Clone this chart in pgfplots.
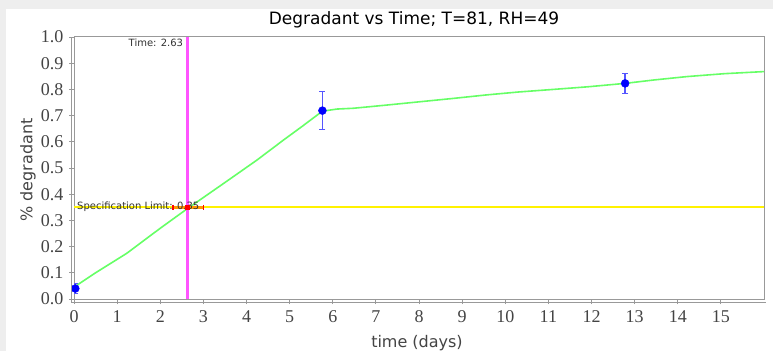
\documentclass[border=0pt]{standalone}
\usepackage{pgfplots}
\pgfplotsset{compat=1.18}
\usepackage{fontspec}
\setmainfont{DejaVu Sans}
\newfontfamily\tickfont{Liberation Serif}
\definecolor{bggray}{HTML}{EEEEEE}
\definecolor{curvegreen}{HTML}{66FF66}
\definecolor{magline}{HTML}{FF55FF}
\definecolor{framegray}{HTML}{999999}
\definecolor{ticktext}{HTML}{444444}
\definecolor{errblue}{HTML}{5555FF}
\definecolor{barorange}{HTML}{FF9900}
\begin{document}
\begin{tikzpicture}[x=1pt,y=1pt]
\useasboundingbox (0,0) rectangle (773,351);
\fill[bggray] (0,0) rectangle (773,351);
\fill[white] (6,0) rectangle (773,342);
\node[anchor=base, font=\fontsize{17}{17}\selectfont] at (414,326) {Degradant vs Time; T=81, RH=49};
\begin{axis}[
  at={(74pt,52pt)}, anchor=south west,
  scale only axis, width=690pt, height=262pt,
  xmin=0, xmax=16, ymin=0, ymax=1.0,
  xtick={0,1,...,15},
  ytick={0,0.1,...,1.0},
  yticklabel style={/pgf/number format/fixed, /pgf/number format/fixed zerofill, /pgf/number format/precision=1, xshift=-2pt},
  /pgf/number format/assume math mode=true,
  ticklabel style={font=\tickfont\fontsize{18}{18}\selectfont, text=ticktext},
  axis line style={framegray, line width=1pt},
  tick style={framegray, line width=0.8pt},
  tick align=outside,
  major tick length=5pt,
  xtick pos=bottom, ytick pos=left,
  xticklabel style={yshift=-3pt},
  clip=true,
]
\addplot[curvegreen, line width=1.6pt] coordinates {
(0,0.045)(0.5,0.10)(1.22,0.174)(2.0,0.27)(2.63,0.345)(3.46,0.44)(4.24,0.53)(4.86,0.607)(5.3,0.66)(5.76,0.717)(6.1,0.725)(6.48,0.728)(7.24,0.74)(8.03,0.753)(8.76,0.765)(9.57,0.779)(10.3,0.79)(11.12,0.80)(11.92,0.81)(12.78,0.823)(13.45,0.836)(14.22,0.849)(15.08,0.86)(16,0.868)
};
\addplot[yellow, line width=1.8pt] coordinates {(0,0.35)(16,0.35)};
\addplot[magline, line width=2.2pt] coordinates {(2.63,0)(2.63,1.0)};
\addplot[only marks, mark=*, mark size=4pt, blue,
  error bars/.cd, y dir=both, y explicit,
  error bar style={errblue, line width=1.3pt},
  error mark options={errblue, line width=1.3pt, mark size=3pt, rotate=90}]
  coordinates {
  (0.03,0.04) +- (0,0.02)
  (5.76,0.719) +- (0,0.072)
  (12.78,0.823) +- (0,0.038)
};
\addplot[barorange, line width=2.5pt, mark=|, mark size=2.5pt, mark options={red, line width=1.5pt}] coordinates {(2.29,0.35)(3.0,0.35)};
\addplot[only marks, mark=square*, mark size=1.8pt, red] coordinates {(2.63,0.35)};
\node[anchor=south east, font=\fontsize{10}{10}\selectfont, text=black!80, inner sep=2pt] at (axis cs:2.58,0.955) {Time: 2.63};
\node[anchor=base west, font=\fontsize{10}{10}\selectfont, text=black!80, inner sep=0pt] at (axis cs:0.07,0.342) {Specification Limit: 0.35};
\end{axis}
\draw[framegray, line width=0.8pt] (71,49) -- (71,314);
\draw[framegray, line width=0.8pt] (71,49) -- (766,49);
\node[rotate=90, anchor=center, font=\fontsize{16}{16}\selectfont, text=ticktext] at (28,181) {\% degradant};
\node[anchor=base, font=\fontsize{16}{16}\selectfont, text=ticktext] at (417,4) {time (days)};
\end{tikzpicture}
\end{document}
